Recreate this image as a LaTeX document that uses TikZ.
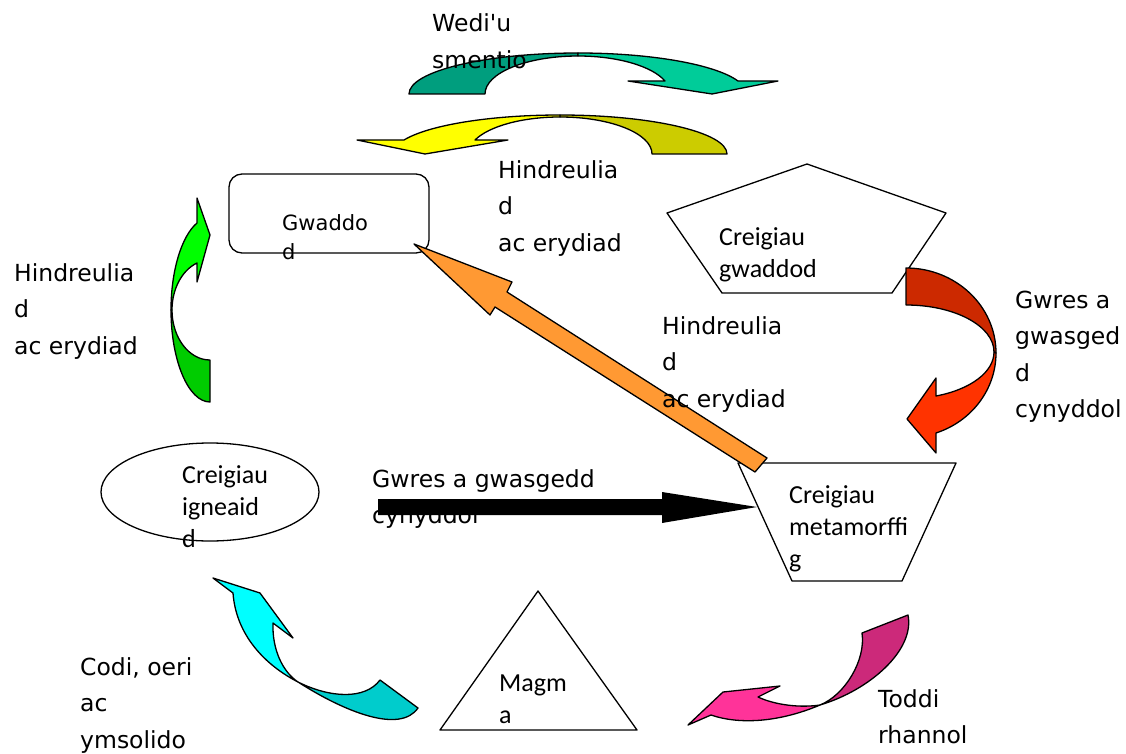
\documentclass[tikz,border=0pt]{standalone}
\usepackage{fontspec}
\setmainfont{DejaVu Sans}
\newfontfamily\shapefont{Carlito}

\definecolor{tealA}{RGB}{0,158,126}
\definecolor{tealB}{RGB}{0,204,153}
\definecolor{yelA}{RGB}{255,255,0}
\definecolor{yelB}{RGB}{204,204,0}
\definecolor{grnA}{RGB}{0,255,0}
\definecolor{grnB}{RGB}{0,204,0}
\definecolor{redA}{RGB}{204,41,0}
\definecolor{redB}{RGB}{255,51,0}
\definecolor{cyA}{RGB}{0,255,255}
\definecolor{cyB}{RGB}{0,204,204}
\definecolor{pkA}{RGB}{255,51,153}
\definecolor{pkB}{RGB}{204,41,122}
\definecolor{orng}{RGB}{255,153,51}

\tikzset{
  lbl/.style={anchor=base west,align=left,inner sep=0pt,font=\fontsize{23.5}{36.5}\selectfont},
  boxtxt/.style={anchor=base west,align=left,inner sep=0pt,font=\fontsize{21}{29}\selectfont},
  shptxt/.style={anchor=base west,align=left,inner sep=0pt,font=\shapefont\fontsize{26}{32}\selectfont},
  outl/.style={draw=black,line width=1.3pt,line join=round}
}

\begin{document}
\begin{tikzpicture}[x=1pt,y=-1pt]
\useasboundingbox (0,0) rectangle (1126,754);

% rock shapes
\draw [outl,rounded corners=13pt] (229,174) rectangle (429,253);
\draw [outl] (807,164) -- (946,213) -- (892,293) -- (722,293) -- (667,213) -- cycle;
\draw [outl] (210,492) ellipse [x radius=109pt,y radius=49pt];
\draw [outl] (738,463) -- (956,463) -- (902,581) -- (792,581) -- cycle;
\draw [outl] (538,591) -- (637,730) -- (440,730) -- cycle;

% base anchor = last line
\node [boxtxt] (gwaddod) at (282,259) {Gwaddo\\d};
\node [shptxt] (gwaddodrock) at (719,277) {Creigiau\\gwaddod};
\node [shptxt] (igneous) at (182,547) {Creigiau\\igneaid\\d};
\node [shptxt] (metam) at (789,567) {Creigiau\\metamorffi\\g};
\node [shptxt] (magma) at (499,723) {Magm\\a};

% wedi'u smentio
\draw [outl,fill=tealA] (409,94) .. controls (409,71.4) and (484.7,53) .. (578,53)
  -- (578,56) .. controls (526.6,56) and (485,73) .. (485,94) -- cycle;
\draw [outl,fill=tealB] (578,53) .. controls (650.8,53) and (715.1,64.3) .. (738,81)
  -- (778,81) -- (712,94) -- (628,81) -- (665,81)
  .. controls (652,66) and (617.1,56) .. (578,56) -- cycle;

% hindreuliad (top)
\draw [outl,fill=yelB] (727,154) .. controls (727,132.5) and (652.2,115) .. (560,115)
  -- (560,117) .. controls (610.8,117) and (652,133.6) .. (652,154) -- cycle;
\draw [outl,fill=yelA] (560,115) .. controls (490.9,115) and (428.9,124.9) .. (404,140)
  -- (357,140) -- (425,154) -- (508,140) -- (475,140)
  .. controls (489,126.1) and (522.6,117) .. (560,117) -- cycle;

% hindreuliad (left)
\draw [outl,fill=grnB] (210,402) .. controls (188.5,402) and (171,360.8) .. (171,310)
  -- (172,310) .. controls (172,337.6) and (189,360) .. (210,360) -- cycle;
\draw [outl,fill=grnA] (171,310) .. controls (171,271.1) and (181.4,236.2) .. (197,223)
  -- (197,198) -- (210,235) -- (197,282) -- (197,263)
  .. controls (182,270.2) and (172,289) .. (172,310) -- cycle;

% gwres a gwasgedd (right)
\draw [outl,fill=redA] (906,268) .. controls (955.7,268) and (996,306.1) .. (996,353)
  -- (994,352) .. controls (994,326) and (954.6,305) .. (906,305) -- cycle;
\draw [outl,fill=redB] (996,353) .. controls (996,389) and (972,421.2) .. (936,433)
  -- (936,453) -- (907,419) -- (936,378) -- (936,396)
  .. controls (970.9,389.4) and (994,371.8) .. (994,352) -- cycle;

% codi, oeri
\draw [outl,fill=cyB] (298,682) .. controls (345,712) and (400,734) .. (418,708)
  -- (380,680) .. controls (365,700) and (330,698) .. (298,682) -- cycle;
\draw [outl,fill=cyA] (298,682) .. controls (265,665) and (236,635) .. (233,593)
  -- (213,578) -- (260,593) -- (293,638) -- (273,623)
  .. controls (272,650) and (283,672) .. (298,682) -- cycle;

% toddi rhannol
\draw [outl,fill=pkB] (820,705) .. controls (870,690) and (915,650) .. (908,615)
  -- (862,633) .. controls (866,660) and (845,695) .. (820,705) -- cycle;
\draw [outl,fill=pkA] (820,705) .. controls (780,722) and (740,725) .. (711,715)
  -- (688,725) -- (723,692) -- (780,686) -- (758,697)
  .. controls (775,705) and (800,708) .. (820,705) -- cycle;

% hindreuliad (orange)
\draw [outl,fill=orng] (414,244) -- (512,282) -- (507,292) -- (767,458)
  -- (755,472) -- (495,307) -- (490,315) -- cycle;

\node [lbl] (gwresmid) at (372,523.5) {Gwres a gwasgedd\\cynyddol};
\fill [black] (378,499) -- (662,499) -- (662,492) -- (757,507) -- (662,523)
  -- (662,515) -- (378,515) -- cycle;

\node [lbl] (smentio) at (432,68.5) {Wedi\textquotesingle u\\smentio};
\node [lbl] (hindtop) at (498,251) {Hindreulia\\d\\ac erydiad};
\node [lbl] (hindleft) at (14,354) {Hindreulia\\d\\ac erydiad};
\node [lbl] (hindmid) at (662,407) {Hindreulia\\d\\ac erydiad};
\node [lbl] (gwresright) at (1015,417.5) {Gwres a\\gwasged\\d\\cynyddol};
\node [lbl] (codi) at (80,748) {Codi, oeri\\ac\\ymsolido};
\node [lbl] (toddi) at (878,743.5) {Toddi\\rhannol};

\end{tikzpicture}
\end{document}
